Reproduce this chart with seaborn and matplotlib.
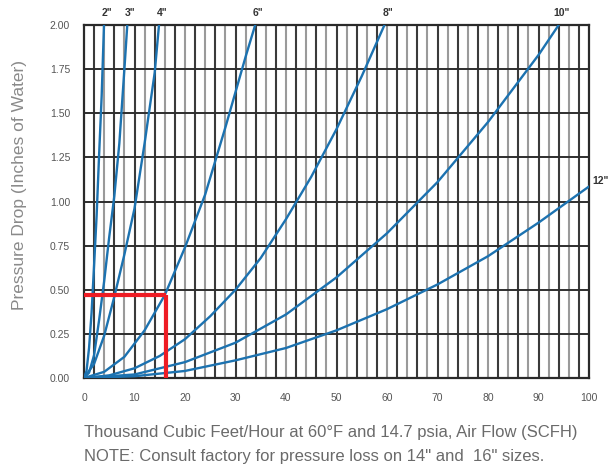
import matplotlib
matplotlib.use("Agg")
import matplotlib.pyplot as plt
import seaborn as sns
import pandas as pd
import numpy as np

# ---- data ----
sizes = ['2"', '3"', '4"', '6"', '8"', '10"', '12"']
flow_2 = [0, 0.5, 1.0, 1.5, 2.0, 2.5, 3.0, 3.5, 3.96]
drop_2 = [0, 0.04, 0.17, 0.37, 0.64, 0.92, 1.27, 1.60, 2.0]
flow_3 = [0, 1, 2, 3, 4, 5, 6, 7, 8, 8.57]
drop_3 = [0, 0.03, 0.13, 0.33, 0.55, 0.80, 1.03, 1.33, 1.75, 2.0]
flow_4 = [0, 2, 4, 6, 8, 10, 12, 14, 14.85]
drop_4 = [0, 0.08, 0.24, 0.46, 0.70, 0.96, 1.33, 1.73, 2.0]
flow_6 = [0, 4, 8, 12, 16, 20, 24, 28, 32, 33.9]
drop_6 = [0, 0.035, 0.12, 0.27, 0.47, 0.74, 1.04, 1.42, 1.82, 2.0]
flow_8 = [0, 5, 10, 15, 20, 25, 30, 35, 40, 45, 50, 55, 59.5]
drop_8 = [0, 0.015, 0.055, 0.125, 0.22, 0.35, 0.50, 0.68, 0.90, 1.14, 1.41, 1.71, 2.0]
flow_10 = [0, 10, 20, 30, 40, 50, 60, 70, 80, 90, 94]
drop_10 = [0, 0.02, 0.09, 0.20, 0.36, 0.57, 0.82, 1.11, 1.45, 1.83, 2.0]
flow_12 = [0, 10, 20, 30, 40, 50, 60, 70, 80, 90, 100]
drop_12 = [0, 0.01, 0.04, 0.10, 0.17, 0.27, 0.39, 0.53, 0.69, 0.88, 1.085]

flows = [flow_2, flow_3, flow_4, flow_6, flow_8, flow_10, flow_12]
drops = [drop_2, drop_3, drop_4, drop_6, drop_8, drop_10, drop_12]

example_flow = 16.3
example_drop = 0.47

x_ticks = [0, 10, 20, 30, 40, 50, 60, 70, 80, 90, 100]
y_ticks = [0.00, 0.25, 0.50, 0.75, 1.00, 1.25, 1.50, 1.75, 2.00]

rows = []
for s, fx, dy in zip(sizes, flows, drops):
    for a, b in zip(fx, dy):
        rows.append({"size": s, "flow": a, "drop": b})
df = pd.DataFrame(rows)

# ---- figure ----
sns.set_style("white")
plt.rcParams['font.family'] = ['Liberation Sans', 'DejaVu Sans']

fig = plt.figure(figsize=(6.1, 4.7), dpi=100)
ax = fig.add_axes([84/610, 1-378/470, (589-84)/610, (378-25)/470])

# grid
for v in np.arange(2, 100, 2):
    col = '#3a3a3a' if (int(round(v)) % 4 == 2) else '#9a9a9a'
    ax.axvline(v, color=col, lw=1.5, zorder=1)
for h in y_ticks[1:-1]:
    ax.axhline(h, color='#2e2e2e', lw=1.4, zorder=1)

blue = '#1c72b0'
sns.lineplot(data=df, x="flow", y="drop", units="size", estimator=None,
             color=blue, lw=1.7, sort=False, ax=ax, zorder=3, legend=False)

# red example lines
ax.plot([0, example_flow], [example_drop, example_drop], color='#ee1c24', lw=3,
        zorder=4, solid_capstyle='butt', clip_on=False)
ax.plot([example_flow, example_flow], [0, example_drop], color='#ee1c24', lw=3,
        zorder=4, solid_capstyle='butt', clip_on=False)

ax.set_xlim(0, 100)
ax.set_ylim(0, 2.0)
ax.set_xticks(x_ticks)
ax.set_yticks(y_ticks)
ax.set_xticklabels([str(t) for t in x_ticks], fontsize=7.5, color='#555555')
ax.set_yticklabels([f"{t:.2f}" for t in y_ticks], fontsize=7.5, color='#555555')
ax.tick_params(axis='x', length=3, width=1, color='#555555', pad=8)
ax.tick_params(axis='y', length=0, pad=10)
ax.set_xlabel("")
ax.set_ylabel("")
for sp in ax.spines.values():
    sp.set_color('#2a2a2a')
    sp.set_linewidth(1.6)

# curve size labels
for s, fx, dy in zip(sizes[:-1], flows[:-1], drops[:-1]):
    ax.text(fx[-1] + 0.6, 2.0 + 0.04, s, ha='center', va='bottom', fontsize=7.5,
            fontweight='bold', color='#333333', clip_on=False)
ax.text(100.6, drop_12[-1] + 0.03, sizes[-1], ha='left', va='center', fontsize=7.5,
        fontweight='bold', color='#333333', clip_on=False)

fig.text(20/610, 1-185/470, "Pressure Drop (Inches of Water)", rotation=90,
         ha='center', va='center', fontsize=12.5, color='#8a8a8a')
fig.text(84/610, 1-432/470,
         "Thousand Cubic Feet/Hour at 60°F and 14.7 psia, Air Flow (SCFH)",
         ha='left', va='center', fontsize=12, color='#6a6a6a')
fig.text(84/610, 1-456/470,
         "NOTE: Consult factory for pressure loss on 14\" and  16\" sizes.",
         ha='left', va='center', fontsize=12, color='#6a6a6a')

fig.savefig("out.png", dpi=100)
